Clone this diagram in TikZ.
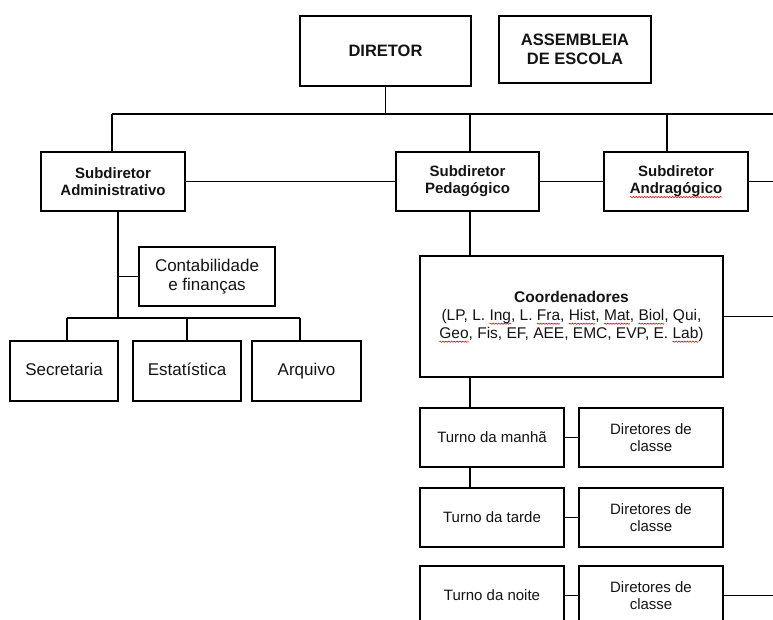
\documentclass[tikz,border=0pt]{standalone}
\usepackage{fontspec}
\setmainfont{Liberation Sans}
\usetikzlibrary{decorations.pathmorphing}
\newlength\sqwlen
\newcommand\sqw[1]{\settowidth\sqwlen{#1}\leavevmode\rlap{\tikz[overlay,baseline=0pt]\draw[red,line width=0.6pt,decorate,decoration={snake,amplitude=0.6pt,segment length=2.8pt}] (0pt,-3.2pt) -- (\sqwlen,-3.2pt);}#1}
\tikzset{
  box/.style={draw, line width=1.3pt, rectangle, inner sep=0pt, align=center, text=black!92},
  ln/.style={line width=1.3pt},
  one/.style={text height=12.5pt, text depth=3.5pt},
  bigb/.style={font=\fontsize{16.5}{19}\selectfont\bfseries},
  subb/.style={font=\fontsize{15}{17}\selectfont\bfseries},
  reg/.style={font=\fontsize{17}{19}\selectfont},
  sm/.style={font=\fontsize{15}{17.5}\selectfont},
  crd/.style={font=\fontsize{15.5}{18}\selectfont},
}
\begin{document}
\begin{tikzpicture}[x=1pt,y=-1pt]
\useasboundingbox (0,0) rectangle (773,619);
\clip (0,0) rectangle (773,619);
\fill[white] (0,0) rectangle (773,619);

% top level
\node[box,bigb,minimum width=171pt,minimum height=70pt] (dir) at (385.5,51) {DIRETOR};
\node[box,bigb,minimum width=152pt,minimum height=67pt] (asm) at (575,49.5) {ASSEMBLEIA\\DE ESCOLA};

% subdirectors
\node[box,subb,minimum width=144pt,minimum height=59pt] (adm) at (113,181.5) {Subdiretor\\Administrativo};
\node[box,subb,minimum width=143pt,minimum height=59pt] (ped) at (467.5,181.5) {Subdiretor\\Pedagógico};
\node[box,subb,minimum width=144pt,minimum height=59pt] (and) at (676,181.5) {Subdiretor\\\sqw{Andragógico}};

% administrative branch
\node[box,reg,minimum width=136pt,minimum height=59pt] (cont) at (207,276.5) {Contabilidade\\e finanças};
\node[box,reg,one,minimum width=108pt,minimum height=60pt] (sec) at (64,371) {Secretaria};
\node[box,reg,one,minimum width=108pt,minimum height=60pt] (est) at (187,371) {Estatística};
\node[box,reg,one,minimum width=109pt,minimum height=60pt] (arq) at (306.5,371) {Arquivo};

% pedagogical branch
\node[box,crd,minimum width=303pt,minimum height=121pt] (coord) at (571.5,316.5)
  {\textbf{Coordenadores}\\(LP, L. \sqw{Ing}, L. \sqw{Fra}, \sqw{Hist}, \sqw{Mat}, \sqw{Biol}, Qui,\\\sqw{Geo}, Fis, EF, AEE, EMC, EVP, E. \sqw{Lab})};
\node[box,sm,one,minimum width=144pt,minimum height=59pt] (tm) at (492,437.5) {Turno da manhã};
\node[box,sm,minimum width=144pt,minimum height=59pt] (dm) at (651,437.5) {Diretores de\\classe};
\node[box,sm,one,minimum width=144pt,minimum height=59pt] (tt) at (492,517.5) {Turno da tarde};
\node[box,sm,minimum width=144pt,minimum height=59pt] (dt) at (651,517.5) {Diretores de\\classe};
\node[box,sm,one,minimum width=144pt,minimum height=59pt] (tn) at (492,595.5) {Turno da noite};
\node[box,sm,minimum width=144pt,minimum height=59pt] (dn) at (651,595.5) {Diretores de\\classe};

% helper coordinates
\coordinate (hL) at (112,114);
\coordinate (hR) at (773,114);
\coordinate (sp) at (470,114);
\coordinate (sa) at (667,114);
\coordinate (av) at (118,318);
\coordinate (bL) at (67,318);
\coordinate (bR) at (300,318);
\coordinate (eR) at (773,0);

% connectors
\draw[ln] (hL) -- (hR);
\draw[ln] (dir.south) -- (dir.south |- hL);
\draw[ln] (hL) -- (hL |- adm.north);
\draw[ln] (sp) -- (sp |- ped.north);
\draw[ln] (sa) -- (sa |- and.north);
\draw[ln] (adm.east) -- (ped.west);
\draw[ln] (ped.east) -- (and.west);
\draw[ln] (and.east) -- (and.east -| eR);

\draw[ln] (adm.south -| av) -- (av);
\draw[ln] (cont.west) -- (cont.west -| av);
\draw[ln] (bL) -- (bR);
\draw[ln] (bL) -- (bL |- sec.north);
\draw[ln] (est.north) -- (est.north |- av);
\draw[ln] (bR) -- (bR |- arq.north);

\draw[ln] (ped.south -| sp) -- (sp |- coord.north);
\draw[ln] (coord.east) -- (coord.east -| eR);
\draw[ln] (coord.south -| sp) -- (sp |- tm.north);
\draw[ln] (tm.south -| sp) -- (sp |- tt.north);
\draw[ln] (tm.east) -- (dm.west);
\draw[ln] (tt.east) -- (dt.west);
\draw[ln] (tn.east) -- (dn.west);
\draw[ln] (dn.east) -- (dn.east -| eR);
\end{tikzpicture}
\end{document}
